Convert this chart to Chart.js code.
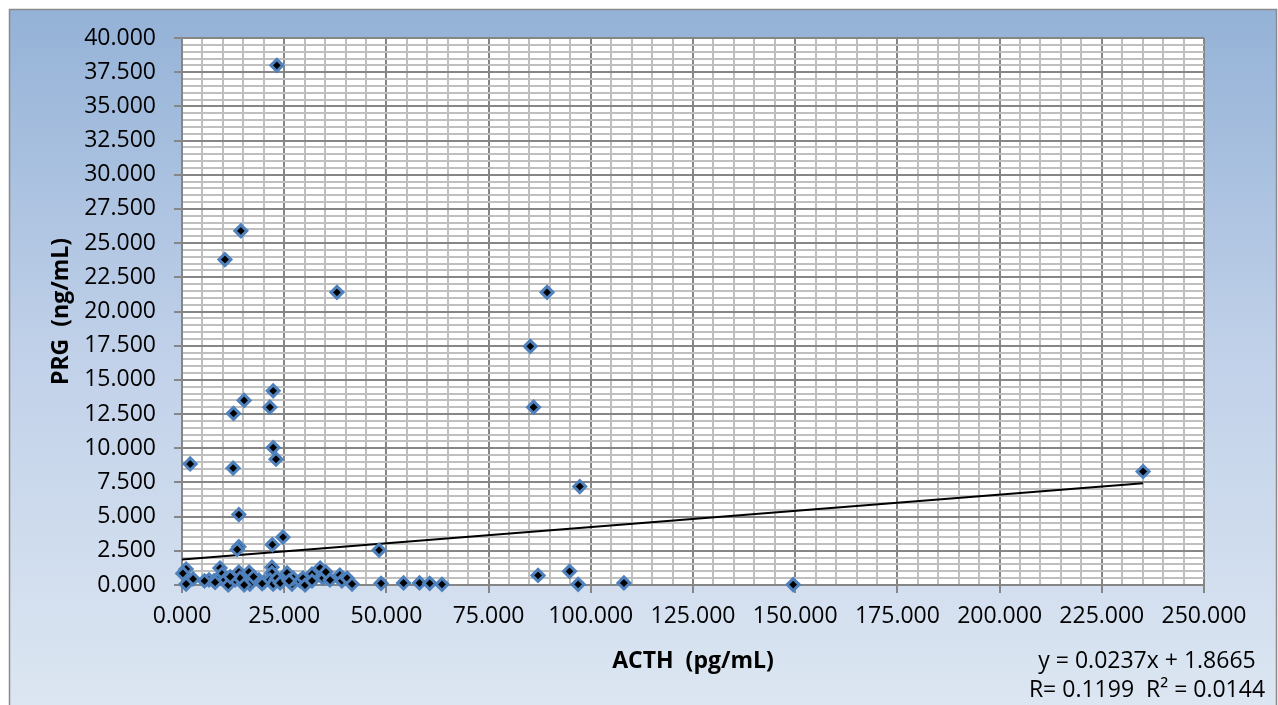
<!DOCTYPE html>
<html>
<head>
<meta charset="utf-8">
<title>PRG vs ACTH</title>
<script src="https://cdn.jsdelivr.net/npm/chart.js@4.4.0/dist/chart.umd.min.js"></script>
<style>
  html, body { margin: 0; padding: 0; background: #fff; }
  canvas { display: block; }
</style>
</head>
<body>
<canvas id="scatter" width="1278" height="705"></canvas>
<script>
// ACTH (pg/mL) and PRG (ng/mL) per sample
const acth = [
  23.2, 14.4, 10.5, 37.9, 89.3, 85.2, 86.0, 22.3, 15.2, 21.5,
  12.6, 22.3, 23.0, 2.0, 12.5, 235.1, 97.3, 13.9, 24.7, 22.1,
  13.9, 13.5, 48.2, 87.1, 94.8, 96.9, 108.1, 149.5, 48.7, 54.2,
  58.1, 60.6, 63.6,
  1.0, 2.7, 0.2, 1.0, 9.3, 9.8, 6.6, 7.8, 8.6, 10.5,
  11.3, 13.0, 13.9, 14.2, 16.4, 16.6, 15.2, 18.8, 20.1, 22.0,
  22.0, 21.5, 22.9, 22.3, 23.2, 24.0, 25.7, 26.9, 27.2, 28.9,
  29.6, 30.1, 31.8, 31.8, 33.8, 34.5, 36.2, 38.6, 39.1, 40.4,
  41.6, 5.5, 17.5, 11.8, 35.2, 26.2, 19.6, 8.1
];
const prg = [
  38.0, 25.9, 23.8, 21.4, 21.4, 17.45, 13.0, 14.2, 13.5, 13.0,
  12.55, 10.05, 9.2, 8.85, 8.55, 8.3, 7.2, 5.15, 3.5, 2.95,
  2.8, 2.6, 2.55, 0.7, 1.0, 0.05, 0.15, 0.03, 0.12, 0.15,
  0.15, 0.12, 0.05,
  1.17, 0.44, 0.85, 0.07, 1.24, 0.8, 0.37, 0.3, 0.37, 0.37,
  0.0, 0.37, 0.95, 0.5, 0.95, 0.07, 0.0, 0.37, 0.22, 1.3,
  0.88, 0.37, 0.37, 0.07, 0.5, 0.15, 0.88, 0.07, 0.5, 0.3,
  0.5, 0.0, 0.8, 0.3, 1.24, 0.5, 0.37, 0.73, 0.3, 0.5,
  0.07, 0.3, 0.6, 0.6, 0.95, 0.3, 0.1, 0.2
];

// linear fit reported for the data
const slope = 0.0237;
const intercept = 1.8665;
const rValue = 0.1199;
const r2Value = 0.0144;

const xTicks = { min: 0, max: 250, major: 25, minor: 5 };
const yTicks = { min: 0, max: 40, major: 2.5, minor: 0.5 };

const points = acth.map((x, i) => ({ x: x, y: prg[i] }));
const xEnd = Math.max(...acth);
const fitLine = [
  { x: 0, y: intercept },
  { x: xEnd, y: slope * xEnd + intercept }
];

const FONT = "'Open Sans', 'DejaVu Sans', sans-serif";
const majorGrid = "#868686";
const minorGrid = "#bfbfbf";

function isMajor(v, step) {
  const k = v / step;
  return Math.abs(k - Math.round(k)) < 1e-6;
}

// gradient frame behind the plot, white plot area, fit equation
const frame = {
  id: "frame",
  beforeDraw(chart) {
    const ctx = chart.ctx;
    const ca = chart.chartArea;
    ctx.save();
    ctx.fillStyle = "#ffffff";
    ctx.fillRect(0, 0, chart.width, chart.height);
    const g = ctx.createLinearGradient(0, 9, 0, chart.height);
    g.addColorStop(0, "#94b2d7");
    g.addColorStop(0.5, "#c1d1e9");
    g.addColorStop(1, "#dce6f2");
    ctx.fillStyle = g;
    ctx.fillRect(9.5, 9.5, chart.width - 11, chart.height);
    ctx.strokeStyle = "#8a8a8a";
    ctx.lineWidth = 1.5;
    ctx.strokeRect(9.5, 9.5, chart.width - 11, chart.height);
    ctx.fillStyle = "#ffffff";
    ctx.fillRect(ca.left, ca.top, ca.right - ca.left, ca.bottom - ca.top);
    ctx.restore();
  },
  afterDraw(chart) {
    const ctx = chart.ctx;
    ctx.save();
    ctx.fillStyle = "#000";
    ctx.font = "23px " + FONT;
    ctx.textAlign = "center";
    ctx.textBaseline = "middle";
    ctx.fillText("y = " + slope.toFixed(4) + "x + " + intercept.toFixed(4), 1147, 661);
    ctx.fillText("R= " + rValue.toFixed(4) + "  R\u00b2 = " + r2Value.toFixed(4), 1147, 690);
    ctx.restore();
  }
};

new Chart(document.getElementById("scatter"), {
  type: "scatter",
  data: {
    datasets: [
      {
        label: "PRG",
        data: points,
        pointStyle: "rectRot",
        pointRadius: 6,
        pointBorderWidth: 3,
        backgroundColor: "#000000",
        borderColor: "#4f81bd",
        clip: false,
        order: 1
      },
      {
        label: "Linear fit",
        type: "line",
        data: fitLine,
        borderColor: "#000000",
        borderWidth: 2,
        pointRadius: 0,
        fill: false,
        order: 2
      }
    ]
  },
  options: {
    responsive: false,
    animation: false,
    devicePixelRatio: 1,
    layout: { padding: { left: 9, top: 38, right: 74, bottom: 0 } },
    plugins: {
      legend: { display: false },
      tooltip: { enabled: false }
    },
    scales: {
      x: {
        type: "linear",
        position: "bottom",
        min: xTicks.min,
        max: xTicks.max,
        afterFit: s => { s.height = 120; },
        ticks: {
          stepSize: xTicks.minor,
          autoSkip: false,
          maxRotation: 0,
          padding: 10,
          color: "#000",
          font: { family: FONT, size: 23 },
          callback: v => isMajor(v, xTicks.major) ? v.toFixed(3) : ""
        },
        grid: {
          color: c => isMajor(c.tick.value, xTicks.major) ? majorGrid : minorGrid,
          lineWidth: 2,
          tickLength: 8,
          tickColor: c => isMajor(c.tick.value, xTicks.major) ? majorGrid : "rgba(0,0,0,0)",
          tickWidth: 2
        },
        border: { color: majorGrid, width: 2 },
        title: {
          display: true,
          text: "ACTH  (pg/mL)",
          color: "#000",
          font: { family: FONT, size: 23, weight: "bold" },
          padding: { top: 0, bottom: 30 }
        }
      },
      y: {
        type: "linear",
        position: "left",
        min: yTicks.min,
        max: yTicks.max,
        afterFit: s => { s.width = 173; },
        ticks: {
          stepSize: yTicks.minor,
          autoSkip: false,
          padding: 18,
          color: "#000",
          font: { family: FONT, size: 23 },
          callback: v => isMajor(v, yTicks.major) ? v.toFixed(3) : ""
        },
        grid: {
          color: c => isMajor(c.tick.value, yTicks.major) ? majorGrid : minorGrid,
          lineWidth: 2,
          tickLength: 8,
          tickColor: c => isMajor(c.tick.value, yTicks.major) ? majorGrid : "rgba(0,0,0,0)",
          tickWidth: 2
        },
        border: { color: majorGrid, width: 2 },
        title: {
          display: true,
          text: "PRG  (ng/mL)",
          color: "#000",
          font: { family: FONT, size: 23, weight: "bold" },
          padding: { top: 39, bottom: 0 }
        }
      }
    }
  },
  plugins: [frame]
});
</script>
</body>
</html>
